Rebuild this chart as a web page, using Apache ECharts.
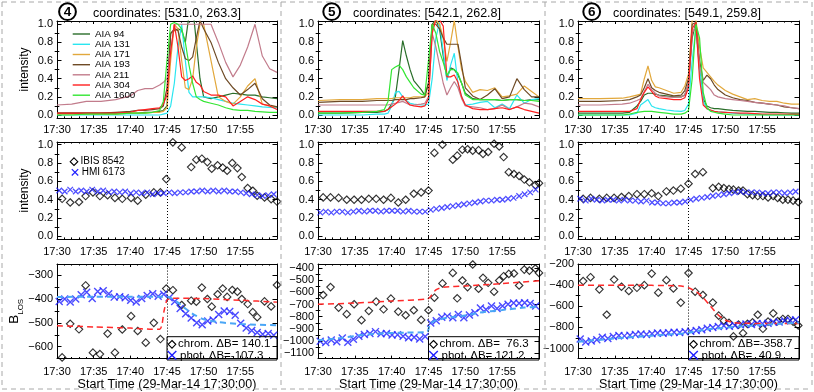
<!DOCTYPE html>
<html><head><meta charset="utf-8">
<script src="https://cdn.jsdelivr.net/npm/echarts@6/dist/echarts.min.js"></script>
<style>html,body{margin:0;padding:0;background:#fff}#c{width:814px;height:392px}</style>
</head><body><div id="c"></div>
<script>
// ---------------- DATA ----------------
const X_TICK_LABELS = ['17:30','17:35','17:40','17:45','17:50','17:55'];
const X_TITLE = 'Start Time (29-Mar-14 17:30:00)';
const EVENT_T = 15; // 17:45, minutes after 17:30
const PANEL_NUMS = ['4','5','6'];
const COORDS = ['[531.0, 263.3]','[542.1, 262.8]','[549.1, 259.8]'];
const AIA_CHANNELS = ['AIA 94','AIA 131','AIA 171','AIA 193','AIA 211','AIA 304','AIA 1600'];
const CHROM_DB = ['140.1','76.3','-358.7'];
const PHOT_DB = ['-107.3','121.2','40.9'];

// AIA light curves (minutes after 17:30, normalized intensity)
const T4 = [0,2,4,6,8,10,11,12,13,14,14.5,15,15.5,16,16.5,17,17.5,18,18.5,19,19.5,20,21,22,23,24,25,26,27,28,29,30];
const A4_94   = [.02,.02,.02,.02,.02,.02,.02,.03,.03,.04,.05,.10,.90,.93,.95,.93,.80,1.10,1.20,.80,.40,.20,.18,.20,.22,.24,.23,.22,.22,.20,.19,.18];
const A4_131  = [0,0,0,0,0,0,0,0,0,0,.01,.02,.10,.35,.75,1.0,.60,.25,.20,.20,.20,.20,.19,.17,.15,.13,.12,.11,.10,.09,.085,.08];
const A4_171  = [.01,.01,.01,.01,.01,.02,.02,.02,.03,.03,.04,.08,.60,1.0,.95,.60,.30,.28,.40,.75,1.0,1.0,.60,.20,.15,.12,.20,.32,.40,.12,.10,.09];
const A4_193  = [.02,.02,.02,.02,.03,.04,.05,.05,.06,.07,.10,.30,.90,.95,.93,.75,.62,.60,.64,.85,1.04,.95,.80,.58,.40,.30,.22,.28,.35,.18,.11,.09];
const A4_211  = [.11,.12,.15,.15,.17,.21,.27,.29,.29,.33,.36,.40,.70,1.0,1.0,1.0,1.0,1.0,1.0,1.0,1.0,1.0,1.0,.80,.58,.42,.55,.75,1.0,.65,.51,.47];
const A4_304  = [.02,.02,.02,.02,.02,.03,.05,.06,.07,.08,.12,.22,.70,1.0,.75,.42,.38,.40,.43,.36,.33,.26,.22,.22,.20,.10,.15,.20,.17,.12,.10,.06];
const A4_1600 = [0,0,.01,.01,.01,.02,.02,.02,.03,.05,.15,.60,1.0,1.02,1.0,.95,.80,.55,.35,.20,.17,.15,.13,.11,.08,.06,.05,.05,.04,.035,.03,.03];

const T5 = [0,3,6,8,9,9.5,10,10.5,11,11.5,12,12.5,13,14,14.5,15,15.5,16,16.5,17,17.5,18,18.5,19,19.5,20,21,22,23,24,25,26,27,28,29,30];
const A5_94   = [.02,.02,.03,.03,.04,.06,.12,.20,.50,.82,.65,.50,.38,.28,.22,.35,1.0,1.05,.95,.65,.40,.52,.50,.44,.35,.24,.18,.17,.17,.17,.16,.17,.17,.16,.17,.17];
const A5_131  = [0,0,0,.01,.01,.02,.10,.25,.26,.20,.16,.13,.12,.11,.11,.12,.40,.85,1.02,.70,.38,.55,.68,.35,.20,.11,.12,.14,.15,.08,.12,.07,.22,.13,.17,.18];
const A5_171  = [.16,.17,.17,.18,.18,.18,.18,.19,.19,.19,.19,.19,.20,.20,.20,.25,.95,1.05,1.0,.85,.59,.80,1.04,.75,.50,.37,.25,.28,.27,.30,.20,.21,.23,.32,.26,.20];
const A5_193  = [.14,.15,.15,.16,.16,.16,.16,.17,.17,.17,.17,.18,.18,.19,.20,.35,1.0,1.0,.95,.85,.78,.78,.78,.78,.55,.30,.21,.17,.22,.29,.18,.20,.40,.28,.20,.20];
const A5_211  = [.11,.11,.11,.11,.11,.11,.12,.13,.14,.15,.13,.11,.11,.12,.13,.20,.90,.75,.55,.35,.22,.30,.37,.30,.18,.10,.09,.08,.06,.07,.11,.06,.09,.13,.12,.09];
const A5_304  = [.04,.04,.04,.04,.04,.06,.09,.12,.16,.21,.15,.11,.10,.09,.10,.18,.90,1.05,1.05,.98,.42,.42,.44,.36,.20,.11,.07,.06,.06,.07,.08,.06,.09,.06,.04,.02];
const A5_1600 = [.02,.02,.03,.04,.06,.15,.50,.53,.55,.50,.42,.36,.30,.23,.22,.60,1.0,.90,.70,.58,.44,.50,.50,.46,.35,.22,.17,.17,.17,.17,.16,.17,.17,.16,.16,.15];

const T6 = [0,3,6,7,8,8.5,9,9.5,10,10.5,11,12,13,14,14.5,15,15.5,16,16.5,17,17.5,18,18.5,19,20,21,22,23,24,25,26,27,28,29,30];
const A6_94   = [.02,.02,.02,.03,.10,.15,.22,.24,.24,.23,.22,.21,.20,.20,.22,.35,.85,1.02,.50,.18,.10,.08,.07,.07,.06,.05,.045,.04,.04,.035,.03,.03,.025,.02,.02];
const A6_131  = [0,0,0,0,.02,.11,.14,.17,.10,.08,.07,.055,.045,.04,.05,.12,.60,.95,.50,.15,.07,.05,.04,.035,.03,.02,.015,.01,.01,.005,0,0,0,0,0];
const A6_171  = [.18,.18,.185,.20,.22,.23,.40,.54,.38,.31,.30,.27,.24,.25,.32,.45,1.05,1.05,.75,.52,.47,.42,.37,.33,.27,.23,.20,.17,.18,.16,.15,.15,.13,.12,.12];
const A6_193  = [.15,.15,.16,.17,.20,.22,.30,.40,.30,.27,.25,.23,.21,.22,.27,.40,1.0,1.02,.60,.38,.44,.40,.33,.28,.22,.19,.17,.16,.14,.13,.12,.11,.09,.08,.07];
const A6_211  = [.11,.11,.12,.13,.16,.18,.26,.34,.28,.24,.21,.20,.195,.20,.22,.35,.90,.98,.55,.36,.32,.28,.22,.20,.18,.17,.16,.15,.14,.13,.12,.11,.10,.08,.07];
const A6_304  = [.04,.04,.04,.04,.07,.17,.25,.31,.26,.21,.19,.18,.17,.17,.19,.30,.95,1.02,.40,.11,.07,.055,.04,.035,.03,.025,.02,.02,.015,.01,.01,.01,.01,.008,.008];
const A6_1600 = [0,0,0,.01,.03,.035,.04,.04,.04,.035,.03,.02,.01,.01,.02,.05,.40,1.0,.85,.25,.08,.04,.03,.02,.01,0,0,0,0,0,0,0,0,0,0];

// IBIS 8542 (chromosphere)
const IBIS_T1 = [0.7,1.8,3.0,3.9,4.9,5.85,6.9,7.9,8.9,10.1,11.0,12.1,13.2,14.1,14.9,15.8,17.0,18.3,19.0,19.75,20.5,21.1,21.9,22.6,23.2,23.9,24.6,25.2,26.0,26.7,27.3,28.3,29.2,30.0];
const IBIS_I1 = [.41,.37,.375,.44,.48,.44,.45,.42,.41,.42,.39,.455,.48,.48,.625,1.025,.97,.756,.836,.847,.81,.738,.775,.75,.716,.80,.745,.647,.527,.498,.443,.425,.407,.38];
const IBIS_B1 = [-645,-504,-527,-343,-625,-631,-545,-625,-528,-472,-534,-583,-500,-568,-356,-363,-425,-407,-411,-352,-400,-432,-380,-356,-391,-362,-369,-400,-421,-455,-476,-410,-431,-341];
const IBIS_T2 = [0.7,1.7,2.8,3.9,4.9,5.9,6.9,7.9,8.9,9.9,10.9,11.9,13.0,14.0,15.0,15.8,16.9,18.3,18.9,19.6,20.3,21.0,21.8,22.4,23.1,23.9,24.6,25.2,25.9,26.6,27.3,28.0,28.7,29.5,30.0];
const IBIS_I2 = [.425,.425,.42,.40,.40,.40,.41,.41,.40,.42,.37,.40,.465,.48,.50,.91,1.0,.836,.88,.945,.95,.935,.94,.90,.92,1.01,.98,.865,.70,.68,.66,.62,.59,.56,.58];
const IBIS_B2 = [-622,-557,-725,-779,-698,-828,-752,-676,-739,-652,-758,-788,-747,-826,-747,-644,-527,-441,-649,-503,-557,-372,-571,-481,-522,-595,-503,-468,-449,-446,-544,-414,-422,-405,-441];
const IBIS_T3 = [0.7,1.7,2.9,3.9,4.9,5.9,6.9,8.0,9.0,10.0,10.9,12.0,12.95,13.95,15.0,15.9,16.95,18.3,19.1,19.8,20.5,21.1,21.8,22.4,23.0,23.7,24.4,25.1,25.8,26.5,27.1,27.8,28.5,29.2,29.9];
const IBIS_I3 = [.41,.42,.41,.42,.42,.43,.44,.46,.46,.47,.44,.49,.50,.52,.575,.68,.70,.527,.54,.527,.516,.51,.50,.50,.46,.45,.44,.44,.425,.44,.42,.40,.40,.39,.375];
const IBIS_B3 = [-362,-325,-440,-680,-347,-415,-455,-425,-400,-291,-471,-353,-431,-565,-285,-462,-493,-565,-689,-736,-757,-885,-773,-854,-767,-752,-680,-813,-745,-667,-740,-720,-720,-745,-782];

// HMI 6173 (photosphere)
const HMI_T = [0.3,1.05,1.8,2.55,3.3,4.05,4.8,5.55,6.3,7.05,7.8,8.55,9.3,10.05,10.8,11.55,12.3,13.05,13.8,14.55,15.3,16.05,16.8,17.55,18.3,19.05,19.8,20.55,21.3,22.05,22.8,23.55,24.3,25.05,25.8,26.55,27.3,28.05,28.8,29.55];
const HMI_I1 = [.50,.49,.51,.49,.50,.49,.51,.49,.50,.48,.49,.48,.49,.47,.48,.47,.48,.46,.47,.47,.48,.47,.48,.48,.49,.49,.50,.49,.50,.49,.50,.49,.49,.48,.47,.46,.45,.44,.45,.46];
const HMI_I2 = [.26,.27,.26,.27,.27,.26,.27,.28,.27,.28,.28,.27,.28,.28,.28,.27,.28,.27,.27,.27,.29,.30,.31,.32,.33,.34,.35,.36,.37,.38,.39,.39,.40,.40,.41,.42,.44,.46,.48,.51];
const HMI_I3 = [.41,.39,.41,.40,.39,.40,.40,.39,.40,.39,.39,.38,.39,.37,.37,.36,.36,.37,.37,.38,.40,.41,.42,.43,.44,.45,.46,.47,.48,.49,.48,.48,.48,.47,.47,.48,.48,.47,.48,.49];
const HMI_B1 = [-410,-400,-412,-400,-382,-372,-398,-368,-365,-378,-392,-390,-395,-405,-412,-398,-385,-378,-388,-380,-395,-410,-440,-462,-480,-500,-508,-492,-488,-465,-450,-452,-468,-502,-522,-532,-540,-548,-545,-552];
const HMI_B2 = [-1000,-1012,-990,-1005,-975,-1010,-985,-960,-945,-937,-922,-940,-938,-950,-948,-960,-972,-968,-982,-962,-852,-832,-805,-795,-808,-782,-808,-786,-768,-728,-740,-712,-732,-712,-698,-688,-690,-686,-692,-712];
const HMI_B3 = [-910,-938,-928,-916,-892,-905,-885,-876,-880,-874,-866,-862,-868,-860,-853,-856,-850,-845,-848,-840,-836,-829,-822,-808,-800,-792,-785,-790,-782,-775,-768,-772,-762,-766,-760,-752,-748,-738,-732,-728];

// step fits
const FIT_CHR_T1 = [0,5,10,13,14,14.3,14.6,15,15.5,20,25,30];
const FIT_CHR_B1 = [-512,-517,-522,-527,-527,-510,-450,-405,-397,-398,-405,-413];
const FIT_PHO_T1 = [0,5,10,14.5,15.5,16.5,17.5,18.5,20,22,25,30];
const FIT_PHO_B1 = [-392,-390,-390,-390,-395,-415,-440,-462,-485,-497,-505,-510];
const FIT_CHR_T2 = [0,5,10,14.8,15.2,16,17,20,25,30];
const FIT_CHR_B2 = [-698,-688,-672,-655,-640,-580,-558,-548,-528,-505];
const FIT_PHO_T2 = [0,3,6,9,12,14.8,15.2,16,18,20,22,25,28,30];
const FIT_PHO_B2 = [-993,-975,-950,-935,-930,-925,-860,-830,-805,-790,-765,-745,-725,-718];
const FIT_CHR_T3 = [0,5,10,14,15,16,17,18,19,20,21,22,26,30];
const FIT_CHR_B3 = [-400,-400,-402,-408,-425,-460,-520,-600,-680,-730,-752,-760,-762,-762];
const FIT_PHO_T3 = [0,5,10,14.8,16,18,22,26,30];
const FIT_PHO_B3 = [-935,-905,-878,-855,-835,-815,-792,-772,-755];

// axis ranges and ticks
const INT_RANGE_1 = [-0.033, 1.036];
const INT_RANGE_2 = [-0.028, 1.029];
const B_RANGES = [[-650,-253],[-1143,-368],[-1095,-200]];
const INT_TICKS = [0,0.2,0.4,0.6,0.8,1.0];
const INT_MINOR = [0.1,0.3,0.5,0.7,0.9];
const B_TICKS = [[-600,-500,-400,-300],[-1100,-1000,-900,-800,-700,-600,-500,-400],[-1000,-800,-600,-400,-200]];
const B_MINOR = [[-550,-450,-350],[-1050,-950,-850,-750,-650,-550,-450],[-900,-700,-500,-300]];

// ---------------- STYLE / LAYOUT ----------------
const FONT = '"Liberation Sans", Helvetica, Arial, sans-serif';
const AIA_COLORS = ['#2a6e2a','#2ae6f0','#e2a83c','#6e4a25','#c27c8c','#ff2020','#33e633'];
const BLUE = '#1e1eff', LBLUE = '#4aa6f6', RED = '#ff2a2a';
const GRIDS = [
  {left:57, top:21, width:220, height:97},{left:318, top:21, width:221, height:97},{left:578, top:21, width:221, height:97},
  {left:57, top:142, width:220, height:97},{left:318, top:142, width:221, height:97},{left:578, top:142, width:221, height:97},
  {left:57, top:264, width:220, height:96},{left:318, top:264, width:221, height:96},{left:578, top:264, width:221, height:96}
];
const LABEL_MARGIN_X = [6, 7, 7.5];

const zip = (T, V) => T.map((t, i) => [t, V[i]]);
const fmtInt = v => v.toFixed(1);
const fmtB = v => (v < 0 ? '\u2212' : '') + Math.abs(Math.round(v));

const xAxes = [], yAxes = [], series = [];
GRIDS.forEach((g, gi) => {
  const row = Math.floor(gi / 3), col = gi % 3;
  const xb = {type:'value', gridIndex:gi, min:0, max:30, interval:5, splitLine:{show:false},
    axisLine:{show:true, onZero:false, lineStyle:{color:'#000', width:1}},
    axisTick:{show:true, inside:true, length:3, lineStyle:{color:'#000', width:1}},
    minorTick:{show:true, splitNumber:5, length:1.6, lineStyle:{color:'#000', width:1}}};
  xAxes.push(Object.assign({}, xb, {position:'bottom',
    axisLabel:{show:true, formatter: v => X_TICK_LABELS[Math.round(v/5)] || '', showMaxLabel:false,
      color:'#000', fontSize:11, fontFamily:FONT, margin:LABEL_MARGIN_X[row]},
    name: row === 2 ? X_TITLE : '', nameLocation:'middle', nameGap:16,
    nameTextStyle:{color:'#000', fontSize:12.5, fontFamily:FONT}}));
  xAxes.push(Object.assign({}, xb, {position:'top', axisLabel:{show:false}}));

  const range = row === 0 ? INT_RANGE_1 : row === 1 ? INT_RANGE_2 : B_RANGES[col];
  const major = row < 2 ? INT_TICKS : B_TICKS[col];
  const minor = row < 2 ? INT_MINOR : B_MINOR[col];
  const fmt = row < 2 ? fmtInt : fmtB;
  const yb = {type:'value', gridIndex:gi, min:range[0], max:range[1], splitLine:{show:false},
    axisLine:{show:true, onZero:false, lineStyle:{color:'#000', width:1}}};
  let name = '', nameGap = 26, nts = {color:'#000', fontSize:12, fontFamily:FONT};
  if (col === 0 && row < 2) { name = 'intensity'; }
  if (col === 0 && row === 2) {
    name = '{b|B}{s|LOS}'; nameGap = 31;
    nts = {color:'#000', rich:{b:{fontSize:13.5, fontFamily:FONT, color:'#000', verticalAlign:'bottom', padding:[0,0,3,0]},
                                s:{fontSize:8, fontFamily:FONT, color:'#000', verticalAlign:'bottom'}}};
  }
  yAxes.push(Object.assign({}, yb, {position:'left',
    axisTick:{show:true, inside:true, length:4.5, customValues:major, lineStyle:{color:'#000'}},
    axisLabel:{show:true, customValues:major, formatter:fmt, color:'#000', fontSize:11, fontFamily:FONT, margin:4},
    name, nameLocation:'middle', nameGap, nameTextStyle:nts}));
  yAxes.push(Object.assign({}, yb, {position:'left', axisLine:{show:false},
    axisTick:{show:true, inside:true, length:2.3, customValues:minor, lineStyle:{color:'#000'}}, axisLabel:{show:false}}));
  yAxes.push(Object.assign({}, yb, {position:'right',
    axisTick:{show:true, inside:true, length:4.5, customValues:major, lineStyle:{color:'#000'}}, axisLabel:{show:false}}));
  yAxes.push(Object.assign({}, yb, {position:'right', axisLine:{show:false},
    axisTick:{show:true, inside:true, length:2.3, customValues:minor, lineStyle:{color:'#000'}}, axisLabel:{show:false}}));
});

const vline = {silent:true, symbol:['none','none'], label:{show:false}, animation:false,
  lineStyle:{color:'#000', type:[1,2], width:1}, data:[{xAxis:EVENT_T}]};

// Row 1: AIA
const AIA_SETS = [
  [T4, [A4_94,A4_131,A4_171,A4_193,A4_211,A4_304,A4_1600]],
  [T5, [A5_94,A5_131,A5_171,A5_193,A5_211,A5_304,A5_1600]],
  [T6, [A6_94,A6_131,A6_171,A6_193,A6_211,A6_304,A6_1600]]
];
AIA_SETS.forEach(([T, sets], col) => {
  sets.forEach((V, ci) => {
    const s = {type:'line', name:AIA_CHANNELS[ci], xAxisIndex:2*col, yAxisIndex:4*col, data:zip(T, V),
      symbol:'none', showSymbol:false, clip:true, animation:false,
      lineStyle:{color:AIA_COLORS[ci], width:1.2}, itemStyle:{color:AIA_COLORS[ci]}};
    if (ci === 0) s.markLine = vline;
    series.push(s);
  });
});

const DIAMOND = {symbol:'diamond', itemStyle:{color:'rgba(0,0,0,0)', borderColor:'#000', borderWidth:1.15}};
const CROSS = 'path://M0,0L10,10M10,0L0,10';
const IBIS_T = [IBIS_T1, IBIS_T2, IBIS_T3];
const IBIS_I = [IBIS_I1, IBIS_I2, IBIS_I3];
const IBIS_B = [IBIS_B1, IBIS_B2, IBIS_B3];
const HMI_I = [HMI_I1, HMI_I2, HMI_I3];
const HMI_B = [HMI_B1, HMI_B2, HMI_B3];
const FITS = [[FIT_CHR_T1,FIT_CHR_B1,FIT_PHO_T1,FIT_PHO_B1],[FIT_CHR_T2,FIT_CHR_B2,FIT_PHO_T2,FIT_PHO_B2],[FIT_CHR_T3,FIT_CHR_B3,FIT_PHO_T3,FIT_PHO_B3]];

for (let col = 0; col < 3; col++) {
  const g2 = 3 + col, g3 = 6 + col;
  series.push(Object.assign({type:'scatter', name:'IBIS 8542', xAxisIndex:2*g2, yAxisIndex:4*g2,
    data:zip(IBIS_T[col], IBIS_I[col]), symbolSize:7.5, animation:false, markLine:vline}, DIAMOND));
  series.push({type:'scatter', name:'HMI 6173', xAxisIndex:2*g2, yAxisIndex:4*g2, data:zip(HMI_T, HMI_I[col]),
    symbol:CROSS, symbolSize:5.5, animation:false, itemStyle:{color:'rgba(0,0,0,0)', borderColor:BLUE, borderWidth:1.25}});

  series.push(Object.assign({type:'scatter', name:'chrom.', xAxisIndex:2*g3, yAxisIndex:4*g3,
    data:zip(IBIS_T[col], IBIS_B[col]), symbolSize:7.5, animation:false, markLine:vline}, DIAMOND));
  series.push({type:'scatter', name:'phot.', xAxisIndex:2*g3, yAxisIndex:4*g3, data:zip(HMI_T, HMI_B[col]),
    symbol:CROSS, symbolSize:7, animation:false, itemStyle:{color:'rgba(0,0,0,0)', borderColor:BLUE, borderWidth:1.4}});
  const f = FITS[col];
  series.push({type:'line', name:'chrom fit', xAxisIndex:2*g3, yAxisIndex:4*g3, data:zip(f[0], f[1]), symbol:'none',
    smooth:0.25, animation:false, lineStyle:{color:RED, width:1.5, type:[6,4]}});
  series.push({type:'line', name:'phot fit', xAxisIndex:2*g3, yAxisIndex:4*g3, data:zip(f[2], f[3]), symbol:'none',
    smooth:0.25, animation:false, lineStyle:{color:LBLUE, width:2, type:[6,4]}});
}

const chart = echarts.init(document.getElementById('c'));
chart.setOption({
  animation:false, backgroundColor:'#fff', textStyle:{fontFamily:FONT},
  grid:GRIDS, xAxis:xAxes, yAxis:yAxes, series
});

// ---------------- annotations ----------------
const G = [];
const txt = (text, x, y, size, align, weight) => ({type:'text', silent:true, z:100,
  style:{text, x, y, fontSize:size, fontFamily:FONT, fontWeight:weight || 'normal', fill:'#000',
    align:align || 'left', textAlign:align || 'left', verticalAlign:'middle', textVerticalAlign:'middle'}});
const ln = (x1, y1, x2, y2, stroke, w, dash) => ({type:'line', silent:true, z:100,
  shape:{x1, y1, x2, y2}, style:{stroke, lineWidth:w, lineDash:dash || null}});

// dashed frame
[[2,2,812,2],[2,389,812,389],[2,2,2,389],[281,2,281,389],[545,2,545,389],[812,2,812,389]]
  .forEach(l => G.push(ln(l[0], l[1], l[2], l[3], '#a8a8a8', 1, [5,4])));

// titles
const TITLE_CX = [167, 427, 687], CIRC_CX = [67.5, 331.7, 591.7];
for (let c = 0; c < 3; c++) {
  G.push({type:'circle', silent:true, z:100, shape:{cx:CIRC_CX[c], cy:11.7, r:8.4}, style:{fill:'none', stroke:'#000', lineWidth:2}});
  G.push(txt(PANEL_NUMS[c], CIRC_CX[c], 12.2, 13.5, 'center', 'bold'));
  G.push(txt('coordinates: ' + COORDS[c], TITLE_CX[c], 14, 12.5, 'center'));
}

// AIA legend
const LEG_Y = [34, 44.3, 54.5, 64.7, 74.8, 85, 95.2];
AIA_CHANNELS.forEach((n, i) => {
  G.push(ln(72.7, LEG_Y[i], 90, LEG_Y[i], AIA_COLORS[i], 1.4));
  G.push(txt(n, 95, LEG_Y[i], 9.8));
});

// IBIS/HMI legend
const dia = (cx, cy, h) => ({type:'polygon', silent:true, z:100, shape:{points:[[cx, cy-h],[cx+h, cy],[cx, cy+h],[cx-h, cy]]},
  style:{fill:'none', stroke:'#000', lineWidth:1.1}});
const crs = (cx, cy, h, w) => [ln(cx-h, cy-h, cx+h, cy+h, BLUE, w), ln(cx-h, cy+h, cx+h, cy-h, BLUE, w)];
G.push(dia(74, 161.7, 3.8));
G.push(txt('IBIS 8542', 80.5, 161.7, 10));
G.push(...crs(75, 172.3, 3.2, 1.2));
G.push(txt('HMI 6173', 81.7, 172.3, 10));

// B legends
for (let c = 0; c < 3; c++) {
  const gi = 6 + c;
  const x0 = chart.convertToPixel({xAxisIndex:2*gi}, EVENT_T);
  const xr = GRIDS[gi].left + GRIDS[gi].width, yb = GRIDS[gi].top + GRIDS[gi].height, yt = 336.7;
  G.push({type:'rect', silent:true, z:100, shape:{x:x0, y:yt, width:xr - x0, height:yb - yt}, style:{fill:'none', stroke:'#000', lineWidth:1}});
  G.push(dia(x0 + 5, 344.3, 3.8));
  G.push(txt('chrom. \u0394B=' + CHROM_DB[c].padStart(6, ' '), x0 + 11, 344.3, 11.5));
  G.push(...crs(x0 + 5, 355.3, 4.3, 1.4));
  G.push(txt('phot. \u0394B=' + PHOT_DB[c].padStart(6, ' '), x0 + 13, 355.6, 11.5));
}
chart.setOption({graphic:G});
</script></body></html>
